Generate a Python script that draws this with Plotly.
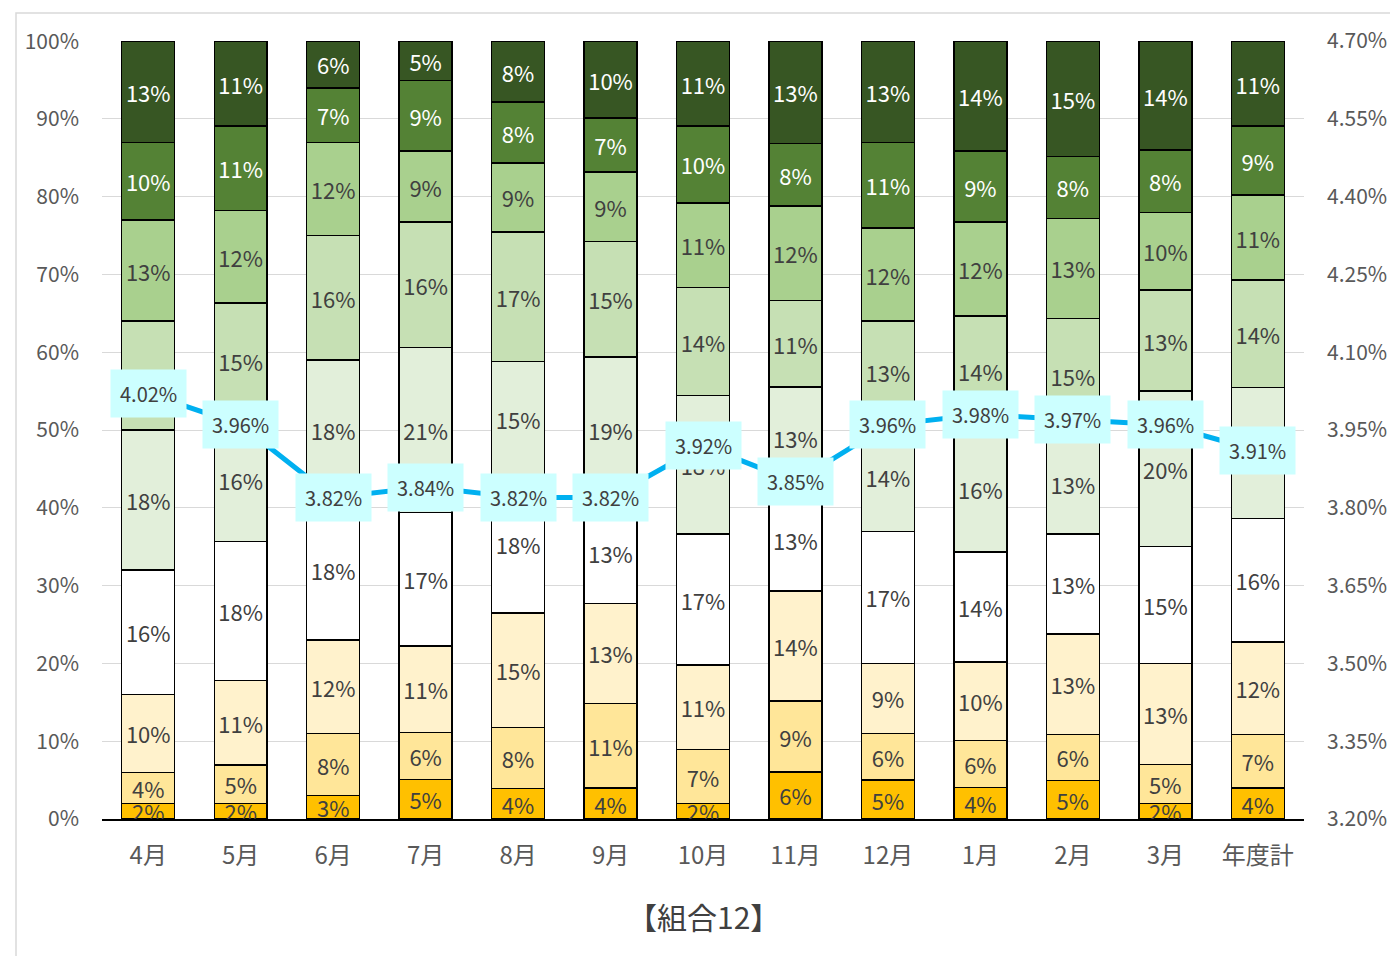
import plotly.graph_objects as go

# 月別の構成比（%）と平均値（%）
months = ["4月", "5月", "6月", "7月", "8月", "9月", "10月", "11月", "12月", "1月", "2月", "3月", "年度計"]

# 下から順に積み上げる9区分
seg1 = [2, 2, 3, 5, 4, 4, 2, 6, 5, 4, 5, 2, 4]
seg2 = [4, 5, 8, 6, 8, 11, 7, 9, 6, 6, 6, 5, 7]
seg3 = [10, 11, 12, 11, 15, 13, 11, 14, 9, 10, 13, 13, 12]
seg4 = [16, 18, 18, 17, 18, 13, 17, 13, 17, 14, 13, 15, 16]
seg5 = [18, 16, 18, 21, 15, 19, 18, 13, 14, 16, 13, 20, 17]
seg6 = [14, 15, 16, 16, 17, 15, 14, 11, 13, 14, 15, 13, 14]
seg7 = [13, 12, 12, 9, 9, 9, 11, 12, 12, 12, 13, 10, 11]
seg8 = [10, 11, 7, 9, 8, 7, 10, 8, 11, 9, 8, 8, 9]
seg9 = [13, 11, 6, 5, 8, 10, 11, 13, 13, 14, 15, 14, 11]

rate = [4.02, 3.96, 3.82, 3.84, 3.82, 3.82, 3.92, 3.85, 3.96, 3.98, 3.97, 3.96, 3.91]

left_ticks = list(range(0, 101, 10))
right_ticks = [3.20, 3.35, 3.50, 3.65, 3.80, 3.95, 4.10, 4.25, 4.40, 4.55, 4.70]

segments = [seg1, seg2, seg3, seg4, seg5, seg6, seg7, seg8, seg9]
fills = ["#FFC000", "#FFE699", "#FFF2CC", "#FFFFFF", "#E2EFDA",
         "#C6E0B4", "#A9D08E", "#548235", "#375623"]
text_colors = ["#404040"] * 7 + ["#FFFFFF", "#FFFFFF"]

FONT = "Noto Sans CJK JP"
W, H = 1390, 956
ML, MR, MT, MB = 102, 86, 41, 137

fig = go.Figure()

for i, (vals, fc, tc) in enumerate(zip(segments, fills, text_colors)):
    fig.add_trace(go.Bar(
        x=months,
        y=vals,
        name=f"区分{i + 1}",
        marker=dict(color=fc, line=dict(color="#000000", width=1.4)),
        text=[f"{v}%" for v in vals],
        textposition="inside",
        insidetextanchor="middle",
        textangle=0,
        textfont=dict(family=FONT, size=22, color=tc),
        cliponaxis=False,
        hoverinfo="skip",
        showlegend=False,
    ))

fig.add_trace(go.Scatter(
    x=months,
    y=rate,
    yaxis="y2",
    mode="lines",
    line=dict(color="#00B0F0", width=5),
    showlegend=False,
    hoverinfo="skip",
))

# 平均値のデータラベル
for m, v in zip(months, rate):
    fig.add_annotation(
        x=m, y=v, xref="x", yref="y2",
        text=f"{v:.2f}%",
        showarrow=False,
        bgcolor="#CCFFFF",
        borderpad=9,
        font=dict(family=FONT, size=20, color="#404040"),
    )

# グラフタイトル（横軸の下）
fig.add_annotation(
    x=0.5, y=-0.125, xref="paper", yref="paper",
    text="【組合12】", showarrow=False,
    font=dict(family=FONT, size=30, color="#404040"),
    yanchor="middle",
)

# グラフエリアの枠線
pw = W - ML - MR
ph = H - MT - MB
fig.add_shape(
    type="rect", xref="paper", yref="paper",
    x0=(16 - ML) / pw, x1=(W + 40 - ML) / pw,
    y0=-(H + 40 - (H - MB)) / ph, y1=((H - MB) - 13) / ph,
    line=dict(color="#D9D9D9", width=1.5), fillcolor="rgba(0,0,0,0)",
    layer="below",
)

fig.update_layout(
    width=W, height=H,
    margin=dict(l=ML, r=MR, t=MT, b=MB, autoexpand=False),
    barmode="stack",
    barnorm="percent",
    bargap=0.427,
    plot_bgcolor="#FFFFFF",
    paper_bgcolor="#FFFFFF",
    uniformtext=dict(minsize=22, mode="show"),
    font=dict(family=FONT, color="#595959"),
    xaxis=dict(
        type="category",
        showgrid=False,
        showline=True, linecolor="#000000", linewidth=1.5,
        ticks="", ticklabelstandoff=14,
        tickfont=dict(family=FONT, size=24, color="#595959"),
    ),
    yaxis=dict(
        range=[0, 100.02],
        tickvals=left_ticks,
        ticktext=[f"{t}%" for t in left_ticks],
        showgrid=True, gridcolor="#D9D9D9", gridwidth=1.3,
        zeroline=False, showline=False,
        ticks="", ticklabelstandoff=22,
        tickfont=dict(family=FONT, size=21, color="#595959"),
    ),
    yaxis2=dict(
        overlaying="y", side="right",
        range=[3.20, 4.70],
        tickvals=right_ticks,
        ticktext=[f"{t:.2f}%" for t in right_ticks],
        showgrid=False, zeroline=False, showline=False,
        ticks="", ticklabelstandoff=22,
        tickfont=dict(family=FONT, size=21, color="#595959"),
    ),
)

fig.write_html("out.html")
